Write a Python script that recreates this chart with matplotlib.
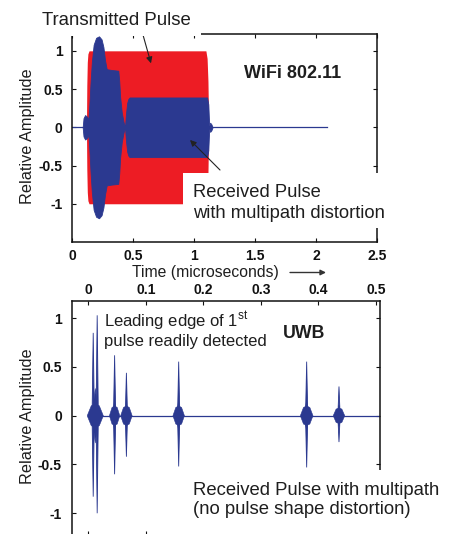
import matplotlib
matplotlib.use("Agg")
import matplotlib.pyplot as plt
from matplotlib.patches import Rectangle

plt.rcParams['font.family'] = ['Liberation Sans', 'DejaVu Sans']
plt.rcParams['axes.unicode_minus'] = False
plt.rcParams['mathtext.fontset'] = 'custom'
plt.rcParams['mathtext.rm'] = 'Liberation Sans'

RED = '#ed1c24'
BLUE = '#2b3990'
INK = '#1e1e1e'

# WiFi: envelope of transmitted pulse (time in us, amplitude)
tx_t = [0.116, 0.119, 0.123, 0.128, 0.137, 1.095, 1.105, 1.112, 1.118]
tx_a = [0.0, 0.55, 0.85, 0.96, 1.0, 1.0, 0.9, 0.6, 0.0]

# WiFi: envelope of received pulse
rx_t = [0.085, 0.092, 0.105, 0.12, 0.132, 0.14, 0.15, 0.16, 0.175, 0.195,
        0.219, 0.24, 0.255, 0.268, 0.282, 0.32, 0.377, 0.385, 0.392, 0.405,
        0.42, 0.432, 0.44, 0.45, 0.459, 0.47, 1.105, 1.115, 1.122, 1.13,
        1.14, 1.15]
rx_a = [0.0, 0.12, 0.16, 0.14, 0.1, 0.3, 0.6, 0.85, 1.08, 1.17,
        1.19, 1.15, 1.05, 0.88, 0.76, 0.75, 0.74, 0.6, 0.4, 0.2,
        0.07, 0.0, 0.18, 0.32, 0.37, 0.39, 0.39, 0.3, 0.02, 0.06,
        0.04, 0.0]
rx_end = 2.09

# UWB: spikes (time in us, positive and negative peak)
uwb_t = [0.0084, 0.0153, 0.0456, 0.0661, 0.157, 0.3795, 0.4357]
uwb_pos = [0.85, 1.03, 0.62, 0.44, 0.555, 0.555, 0.30]
uwb_neg = [-0.83, -1.0, -0.60, -0.42, -0.52, -0.53, -0.27]

# UWB: small clusters around each arrival
blob_t = [0.012, 0.0456, 0.0661, 0.157, 0.3795, 0.4357]
blob_w = [0.014, 0.009, 0.010, 0.010, 0.011, 0.010]
blob_a = [0.12, 0.10, 0.10, 0.10, 0.10, 0.08]
core_a = [0.28, 0.16, 0.13, 0.16, 0.16, 0.11]

wifi_xticks = [0, 0.5, 1, 1.5, 2, 2.5]
wifi_xlabels = ['0', '0.5', '1', '1.5', '2', '2.5']
uwb_xticks = [0, 0.1, 0.2, 0.3, 0.4, 0.5]
uwb_xlabels = ['0', '0.1', '0.2', '0.3', '0.4', '0.5']
yticks = [-1, -0.5, 0, 0.5, 1]
ylabels = ['-1', '-0.5', '0', '0.5', '1']

W, H = 455, 534


def fx(px):
    return px / W


def fy(py):
    return 1 - py / H


fig = plt.figure(figsize=(W / 100, H / 100), dpi=100)

ax1 = fig.add_axes([fx(72.3), fy(242), fx(377.3) - fx(72.3), (242 - 34) / H])
ax2 = fig.add_axes([fx(71.7), fy(534.5), fx(380) - fx(71.7), (534.5 - 300.7) / H])

for ax in (ax1, ax2):
    for s in ax.spines.values():
        s.set_linewidth(1.1)
        s.set_color('#111111')
    ax.tick_params(direction='in', length=3, width=0.8, top=True, right=True,
                   labelsize=10, colors='#111111')
    ax.set_yticks(yticks)
    ax.set_yticklabels(ylabels, fontweight='bold')
    ax.tick_params(axis='y', pad=7)

# --- WiFi panel ---
ax1.plot([0, rx_end], [0, 0], color=BLUE, lw=0.9)
ax1.fill_between(tx_t, [-a for a in tx_a], tx_a, color=RED, lw=0)
ax1.fill_between(rx_t, [-a for a in rx_a], rx_a, color=BLUE, lw=0.6,
                 edgecolor=BLUE)
ax1.set_xlim(0, 2.5)
ax1.set_ylim(-1.5, 1.22)
ax1.set_xticks(wifi_xticks)
ax1.set_xticklabels(wifi_xlabels, fontweight='bold')
ax1.tick_params(axis='x', pad=5)

# --- UWB panel ---
ax2.plot([0, 0.6], [0, 0], color=BLUE, lw=0.9)
for t, w, a, c in zip(blob_t, blob_w, blob_a, core_a):
    ax2.fill([t - w, t - w / 2, t, t + w / 2, t + w, t + w / 2, t, t - w / 2],
             [0, 0.85 * a, a, 0.85 * a, 0, -0.85 * a, -a, -0.85 * a],
             color=BLUE, lw=0.4)
    ax2.fill([t - w / 2.5, t, t + w / 2.5, t], [0, c, 0, -c], color=BLUE, lw=0.4)
for t, p, n in zip(uwb_t, uwb_pos, uwb_neg):
    ax2.fill([t - 0.002, t, t + 0.002, t], [0, p, 0, n], color=BLUE,
             edgecolor=BLUE, lw=0.6)
ax2.set_xlim(-0.029, 0.507)
ax2.set_ylim(-1.218, 1.18)
ax2.set_xticks(uwb_xticks)
ax2.set_xticklabels(uwb_xlabels, fontweight='bold')
ax2.tick_params(axis='x', labeltop=True, labelbottom=False, pad=3)

# white label boxes that sit over the frame
for x0, y0, x1, y1 in [(40, 0, 201, 35.5), (183, 172.5, 393, 227.5),
                       (188, 470, 452, 534)]:
    fig.add_artist(Rectangle((fx(x0), fy(y1)), fx(x1) - fx(x0), (y1 - y0) / H,
                             transform=fig.transFigure, facecolor='white',
                             edgecolor='none', zorder=2))

kw = dict(color=INK, va='baseline', ha='left', zorder=4)
fig.text(fx(42), fy(25), 'Transmitted Pulse', fontsize=13.4, **kw)
fig.text(fx(193), fy(196.7), 'Received Pulse', fontsize=13.2, **kw)
fig.text(fx(193), fy(218.3), 'with multipath distortion', fontsize=13.2, **kw)
fig.text(fx(293), fy(78.3), 'WiFi 802.11', fontsize=13, fontweight='bold',
         color=INK, ha='center', va='baseline')
fig.text(fx(131.7), fy(277), 'Time (microseconds)', fontsize=11.3, **kw)
fig.text(fx(104), fy(327.3), r'Leading edge of 1$^{\mathrm{st}}$', fontsize=12, **kw)
fig.text(fx(104), fy(346), 'pulse readily detected', fontsize=12, **kw)
fig.text(fx(304), fy(338.3), 'UWB', fontsize=12.8, fontweight='bold',
         color=INK, ha='center', va='baseline')
fig.text(fx(193), fy(495), 'Received Pulse with multipath', fontsize=13.3, **kw)
fig.text(fx(193), fy(514.5), '(no pulse shape distortion)', fontsize=13.3, **kw)

for cy in (136, 415.8):
    fig.text(fx(27.7), fy(cy), 'Relative Amplitude', fontsize=11.7, color=INK,
             rotation=90, ha='center', va='center')

arrow = dict(arrowstyle='-|>', lw=0.8, color='#222222', mutation_scale=9,
             shrinkA=0, shrinkB=0)
ax1.annotate('', xy=(0.645, 0.837), xycoords='data',
             xytext=(143.3, H - 36), textcoords='figure pixels',
             arrowprops=arrow, annotation_clip=False)
ax1.annotate('', xy=(0.965, -0.166), xycoords='data',
             xytext=(220, H - 170), textcoords='figure pixels',
             arrowprops=arrow, annotation_clip=False)
fig.add_artist(plt.Annotation('', xy=(fx(326), fy(272.5)), xycoords='figure fraction',
                              xytext=(fx(290), fy(272.5)), textcoords='figure fraction',
                              arrowprops=dict(arrowstyle='-|>', lw=1.0, color='#333333',
                                              mutation_scale=8, shrinkA=0, shrinkB=0)))

fig.savefig('out.png', dpi=100)
